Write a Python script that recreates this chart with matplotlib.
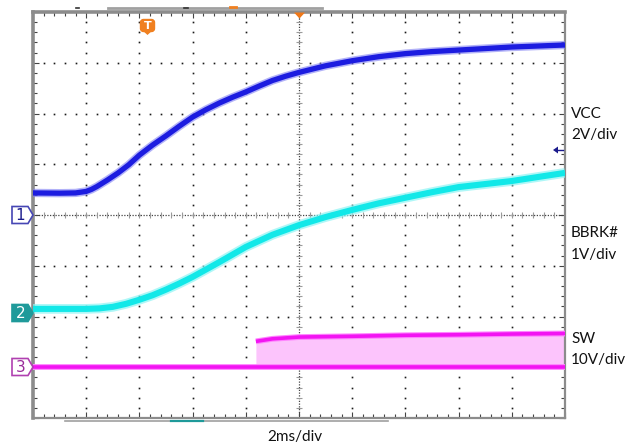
import matplotlib.pyplot as plt
from matplotlib.patches import Polygon, FancyBboxPatch

# time base in ms (screen = -10..10 ms, 2 ms/div)
vcc_time = [-10, -9, -8.4, -8, -7.8, -7.6, -7.2, -6.8, -6.4, -6, -5.5, -5, -4.5, -4, -3.5, -3,
            -2.5, -2, -1.5, -1, -0.5, 0, 1, 2, 3, 4, 5, 6, 7, 8, 9, 10]
vcc_volts = [0.87, 0.86, 0.87, 0.93, 1.01, 1.12, 1.38, 1.66, 1.98, 2.36, 2.76, 3.12, 3.5, 3.86,
             4.15, 4.41, 4.64, 4.85, 5.08, 5.3, 5.47, 5.62, 5.88, 6.08, 6.24, 6.36, 6.44, 6.5,
             6.56, 6.62, 6.66, 6.7]

bbrk_time = [-10, -9, -8, -7.5, -7, -6.5, -6, -5.5, -5, -4.5, -4, -3, -2, -1, 0, 1, 2, 3, 4,
             5, 6, 7, 8, 9, 10]
bbrk_volts = [0.06, 0.06, 0.06, 0.07, 0.1, 0.16, 0.24, 0.33, 0.44, 0.56, 0.69, 0.98, 1.28,
              1.52, 1.71, 1.87, 2.01, 2.14, 2.25, 2.36, 2.46, 2.52, 2.58, 2.66, 2.74]

sw_time = [-10, -1.62, -1.62, -1.0, 0, 2, 4, 6, 8, 10]
sw_high = [0, 0, 5.1, 5.6, 5.95, 6.1, 6.3, 6.4, 6.55, 6.65]
sw_low = [0, 0, 0, 0, 0, 0, 0, 0, 0, 0]

# channel scale (V/div) and ground offset (div)
vcc_scale, vcc_offset = 2.0, 0.0
bbrk_scale, bbrk_offset = 1.0, -1.91
sw_scale, sw_offset = 10.0, -3.0

W, H = 636, 446
fig = plt.figure(figsize=(W / 100, H / 100), dpi=100)
ax = fig.add_axes([33 / W, 1 - 418 / H, 532 / W, 406 / H])
ax.set_xlim(-10, 10)
ax.set_ylim(-4, 4)

# graticule
for s in ax.spines.values():
    s.set_color('#8c8c8c')
    s.set_linewidth(1.6)
ax.spines['left'].set_linewidth(2.6)
ax.spines['top'].set_linewidth(2.6)
ax.set_xticks(range(-10, 11, 2))
ax.set_yticks(range(-4, 5))
ax.set_xticks([i * 0.4 for i in range(-25, 26)], minor=True)
ax.set_yticks([i * 0.2 for i in range(-20, 21)], minor=True)
ax.tick_params(which='both', direction='in', top=True, right=True,
               labelbottom=False, labelleft=False, color='#444444')
ax.tick_params(which='major', length=4, width=0.8)
ax.tick_params(which='minor', length=3, width=0.8)

gx, gy = [], []
for xv in range(-8, 10, 2):
    if xv == 0:
        continue
    for k in range(-19, 20):
        gx.append(xv)
        gy.append(k * 0.2)
for yv in range(-3, 4):
    if yv == 0:
        continue
    for k in range(-24, 25):
        if k % 5 == 0:
            continue
        gx.append(k * 0.4)
        gy.append(yv)
ax.plot(gx, gy, ls='none', marker='s', ms=1.2, mew=0, color='#1a1a1a', zorder=1)

ax.axhline(0, color='#444444', lw=0.9, ls=(0, (1, 1.2)), zorder=1)
ax.axvline(0, color='#444444', lw=0.9, ls=(0, (1, 1.2)), zorder=1)
mt = [k * 0.4 for k in range(-24, 25) if k != 0]
ax.plot(mt, [0] * len(mt), ls='none', marker='|', ms=5, mew=0.8, color='#9a9a9a', zorder=1)
mt = [k * 0.2 for k in range(-19, 20) if k != 0]
ax.plot([0] * len(mt), mt, ls='none', marker='_', ms=5, mew=0.8, color='#9a9a9a', zorder=1)

# traces
line_kw = dict(solid_capstyle='butt', solid_joinstyle='round')
vy = [v / vcc_scale + vcc_offset for v in vcc_volts]
ax.plot(vcc_time, vy, color='#8080f4', lw=6.0, alpha=0.6, zorder=3, **line_kw)
ax.plot(vcc_time, vy, color='#1c1ce0', lw=3.8, zorder=4, **line_kw)

by = [v / bbrk_scale + bbrk_offset for v in bbrk_volts]
ax.plot(bbrk_time, by, color='#8ef4f4', lw=7.0, alpha=0.7, zorder=3, **line_kw)
ax.plot(bbrk_time, by, color='#12e8e8', lw=4.4, zorder=4, **line_kw)

sh = [v / sw_scale + sw_offset for v in sw_high]
sl = [v / sw_scale + sw_offset for v in sw_low]
ax.fill_between(sw_time, sl, sh, color='#fcc4fc', lw=0, zorder=2)
ax.plot(sw_time[2:], sh[2:], color='#ff84ff', lw=4.2, zorder=3, **line_kw)
ax.plot(sw_time[2:], sh[2:], color='#f214f2', lw=2.6, zorder=4, **line_kw)
ax.plot(sw_time, sl, color='#ff84ff', lw=4.2, zorder=3, **line_kw)
ax.plot(sw_time, sl, color='#f214f2', lw=2.6, zorder=4, **line_kw)

# screen decorations in pixel coordinates
ov = fig.add_axes([0, 0, 1, 1], zorder=5)
ov.set_xlim(0, W)
ov.set_ylim(H, 0)
ov.axis('off')
ov.patch.set_alpha(0)

def ch_marker(y, label, fc, ec, tc):
    ov.add_patch(Polygon([(12, y - 8.5), (28, y - 8.5), (33, y), (28, y + 8.5), (12, y + 8.5)],
                         closed=True, fc=fc, ec=ec, lw=1.2))
    ov.text(20.5, y + 0.5, label, ha='center', va='center', color=tc,
            fontsize=11, family='DejaVu Sans')

ch_marker(215, '1', 'white', '#4646b4', '#1a1a8c')
ch_marker(313, '2', '#1f9a9a', '#1f9a9a', 'white')
ch_marker(367, '3', 'white', '#b040b0', '#9a2a9a')

# trigger marker
ov.add_patch(FancyBboxPatch((141, 20), 13, 11, boxstyle='round,pad=0.5,rounding_size=3',
                            fc='#f08020', ec='#f08020'))
ov.add_patch(Polygon([(142, 30), (153, 30), (147.5, 35)], closed=True, fc='#f08020', ec='none'))
ov.text(147.5, 26, 'T', ha='center', va='center', color='white', fontsize=8, fontweight='bold')
ov.add_patch(Polygon([(294, 12.5), (305, 12.5), (299.5, 18.5)], closed=True, fc='#f07818', ec='none'))

# trigger level arrow
ov.add_patch(Polygon([(553, 150), (558, 146.5), (558, 153.5)], closed=True, fc='#1a1a8c', ec='none'))
ov.plot([557, 563], [150, 150], color='#1a1a8c', lw=1.0)

# top / bottom status bars
ov.plot([108, 322], [8, 8], color='#a0a0a0', lw=2)
ov.plot([76, 79], [8, 8], color='#333333', lw=1.2)
ov.plot([184, 188], [8, 8], color='#333333', lw=1.2)
ov.plot([230, 236], [7, 7], color='#f08020', lw=2)
ov.plot([65, 388], [420.5, 420.5], color='#a0a0a0', lw=1.2)
ov.plot([171, 203], [420.5, 420.5], color='#1f9a9a', lw=1.6)

# labels
lab = dict(fontsize=11, family='Lato', color='#111111', va='center', ha='left')
ov.text(571, 114, 'VCC', **lab)
ov.text(571, 135, '2V/div', **lab)
ov.text(571, 233, 'BBRK#', **lab)
ov.text(571, 255, '1V/div', **lab)
ov.text(571, 339, 'SW', **lab)
ov.text(571, 360, '10V/div', **lab)
ov.text(295, 437, '2ms/div', fontsize=11, family='Lato', color='#111111', ha='center', va='center')

fig.savefig('out.png', dpi=100)
